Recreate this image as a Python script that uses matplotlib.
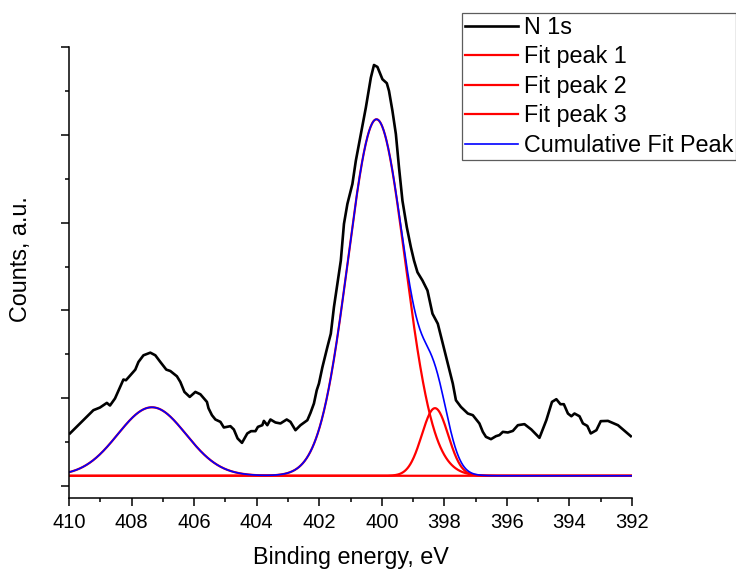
"""
N 1s XPS spectrum with fitted peaks
"""
import numpy as np
import matplotlib.pyplot as plt

# -----------------------------------
# measured N 1s spectrum (binding energy, eV / counts, a.u.)
energy = [409.97, 409.22, 409.01, 408.79, 408.69, 408.53, 408.26, 408.18, 408.04, 407.88,
          407.78, 407.62, 407.40, 407.24, 407.08, 406.89, 406.76, 406.55, 406.44, 406.31,
          406.14, 405.96, 405.80, 405.59, 405.54, 405.43, 405.32, 405.16, 405.05, 404.84,
          404.73, 404.61, 404.47, 404.30, 404.18, 404.04, 403.96, 403.82, 403.77, 403.66,
          403.56, 403.40, 403.24, 403.04, 402.92, 402.76, 402.60, 402.38, 402.28, 402.17,
          402.08, 402.01, 401.90, 401.74, 401.63, 401.53, 401.42, 401.31, 401.21, 401.10,
          400.94, 400.83, 400.67, 400.51, 400.35, 400.25, 400.14, 399.98, 399.84, 399.77,
          399.66, 399.55, 399.45, 399.34, 399.20, 399.07, 398.97, 398.86, 398.70, 398.54,
          398.38, 398.21, 398.05, 397.89, 397.73, 397.63, 397.47, 397.25, 397.09, 396.88,
          396.77, 396.67, 396.51, 396.35, 396.24, 396.13, 395.97, 395.81, 395.65, 395.44,
          395.22, 394.96, 394.74, 394.56, 394.42, 394.29, 394.18, 394.05, 393.94, 393.84,
          393.68, 393.57, 393.43, 393.32, 393.14, 393.00, 392.77, 392.45, 392.04]
counts = [0.599, 0.864, 0.894, 0.947, 0.917, 0.997, 1.213, 1.205, 1.261, 1.326,
          1.413, 1.489, 1.519, 1.489, 1.413, 1.326, 1.310, 1.250, 1.185, 1.072,
          1.015, 1.072, 1.045, 0.958, 0.886, 0.807, 0.758, 0.731, 0.667, 0.682,
          0.644, 0.542, 0.492, 0.599, 0.625, 0.625, 0.674, 0.693, 0.742, 0.693,
          0.758, 0.724, 0.713, 0.758, 0.731, 0.636, 0.693, 0.750, 0.833, 0.940,
          1.091, 1.167, 1.352, 1.583, 1.735, 2.038, 2.303, 2.568, 2.985, 3.213,
          3.440, 3.705, 4.008, 4.310, 4.651, 4.795, 4.773, 4.633, 4.588, 4.500,
          4.273, 4.008, 3.628, 3.250, 2.947, 2.719, 2.568, 2.435, 2.341, 2.227,
          1.963, 1.849, 1.622, 1.394, 1.167, 0.977, 0.901, 0.826, 0.807, 0.713,
          0.617, 0.560, 0.534, 0.568, 0.580, 0.617, 0.610, 0.628, 0.693, 0.705,
          0.644, 0.549, 0.750, 0.958, 0.989, 0.932, 0.932, 0.826, 0.795, 0.826,
          0.795, 0.713, 0.685, 0.599, 0.636, 0.739, 0.742, 0.693, 0.568]

# fitted Gaussian peaks: centre (eV), sigma (eV), height (a.u.)
peak_centre = [407.35, 400.17, 398.30]
peak_sigma = [1.09, 0.91, 0.42]
peak_height = [0.78, 4.06, 0.77]
baseline = 0.117
peak_labels = ['Fit peak 1', 'Fit peak 2', 'Fit peak 3']
# -----------------------------------

plt.rcParams['font.family'] = ['Liberation Sans', 'DejaVu Sans']

e_fit = np.linspace(410, 392, 1200)
fits = []
for c, s, h in zip(peak_centre, peak_sigma, peak_height):
    fits.append(baseline + h * np.exp(-(e_fit - c) ** 2 / (2 * s ** 2)))
cumulative = baseline + sum(f - baseline for f in fits)

fig = plt.figure(figsize=(7.36, 5.69), dpi=100)
ax = fig.add_axes([0.09375, 0.1248, 0.7650, 0.7926])

ax.plot(energy, counts, color='black', linewidth=1.9, label='N 1s')
for f, lab in zip(fits, peak_labels):
    ax.plot(e_fit, f, color='red', linewidth=1.6, label=lab)
ax.plot(e_fit, cumulative, color='blue', linewidth=1.2, label='Cumulative Fit Peak')

ax.set_xlim(410, 392)
ax.set_ylim(-0.136, 4.99)
ax.set_xticks(np.arange(410, 391, -2))
ax.set_xticks(np.arange(409, 392, -2), minor=True)
ax.set_yticks(np.arange(0, 5.01, 1))
ax.set_yticks(np.arange(0.5, 5, 1), minor=True)
ax.set_yticklabels([])

for side in ['top', 'right']:
    ax.spines[side].set_visible(False)
for side in ['left', 'bottom']:
    ax.spines[side].set_linewidth(1.1)

ax.tick_params(which='major', direction='out', length=6, width=1.1, labelsize=14.5, pad=5)
ax.tick_params(which='minor', direction='out', length=3, width=1.1)

ax.set_xlabel('Binding energy, eV', fontsize=16.8, labelpad=10)
ax.set_ylabel('Counts, a.u.', fontsize=16.8)
ax.yaxis.set_label_coords(-0.066, 0.529)

leg = ax.legend(loc='upper left', bbox_to_anchor=(462 / 736, 1 - 13 / 569),
                bbox_transform=fig.transFigure, fontsize=16.8, frameon=True,
                fancybox=False, borderpad=0.12, labelspacing=0.28,
                handlelength=2.28, handletextpad=0.25, borderaxespad=0)
leg.get_frame().set_edgecolor('#333333')
leg.get_frame().set_linewidth(0.9)

fig.savefig('out.png', dpi=100)
